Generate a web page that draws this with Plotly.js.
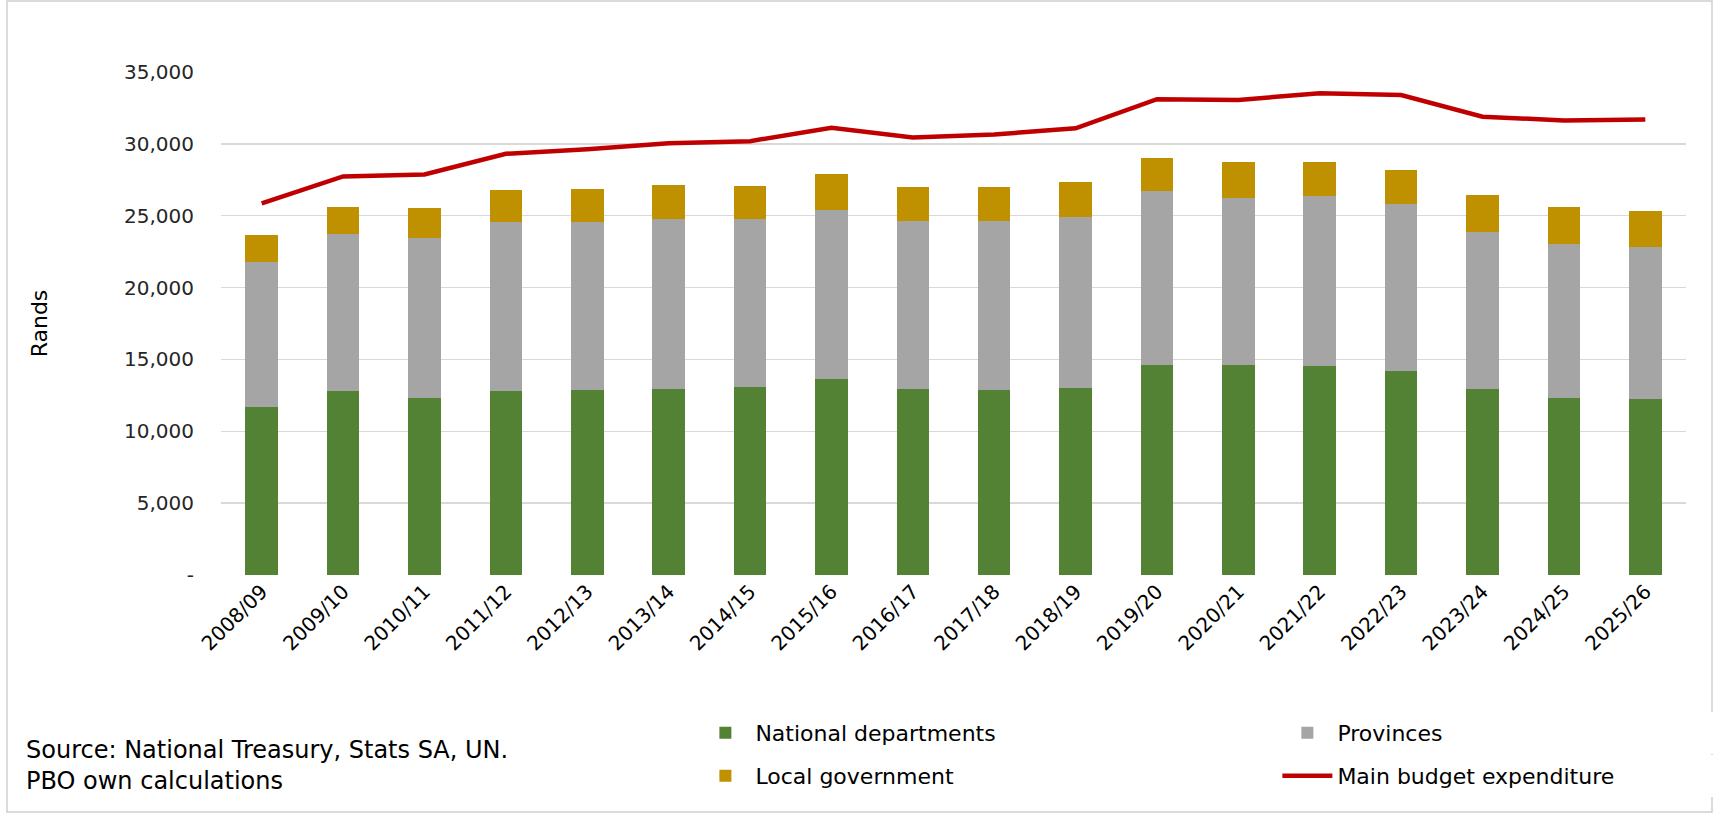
<!DOCTYPE html>
<html>
<head>
<meta charset="utf-8">
<script src="https://cdn.plot.ly/plotly-3.0.1.min.js"></script>
<style>html,body{margin:0;padding:0;background:#fff;}#chart{width:1717px;height:814px;}</style>
</head>
<body>
<div id="chart"></div>
<script>
const years = ["2008/09","2009/10","2010/11","2011/12","2012/13","2013/14","2014/15","2015/16","2016/17","2017/18","2018/19","2019/20","2020/21","2021/22","2022/23","2023/24","2024/25","2025/26"];
const nationalDepartments = [11700,12820,12300,12780,12850,12970,13060,13610,12940,12890,13040,14620,14590,14550,14210,12970,12340,12270];
const provinces = [10070,10890,11140,11770,11700,11790,11700,11800,11700,11750,11840,12080,11630,11790,11580,10910,10670,10550];
const localGovernment = [1890,1890,2090,2220,2290,2370,2320,2460,2350,2390,2440,2340,2540,2370,2420,2560,2590,2540];
const mainBudgetExpenditure = [25860,27730,27870,29310,29620,30050,30190,31120,30450,30650,31080,33110,33060,33520,33400,31890,31630,31700];
const yTickVals = [0,5000,10000,15000,20000,25000,30000,35000];
const yTickText = ["-","5,000","10,000","15,000","20,000","25,000","30,000","35,000"];
const sourceLines = ["Source: National Treasury, Stats SA, UN.","PBO own calculations"];

const FONT = "DejaVu Sans, sans-serif";
const W = 1717, H = 814;
const M = {l:221, r:31, t:72, b:239};

const traces = [
  {type:"bar", name:"National departments", x:years, y:nationalDepartments, marker:{color:"#548235"}, legend:"legend"},
  {type:"bar", name:"Provinces", x:years, y:provinces, marker:{color:"#A5A5A5"}, legend:"legend"},
  {type:"bar", name:"Local government", x:years, y:localGovernment, marker:{color:"#BF9000"}, legend:"legend2"},
  {type:"scatter", mode:"lines", name:"Main budget expenditure", x:years, y:mainBudgetExpenditure, line:{color:"#C00000", width:4.5}, legend:"legend2"}
];

const pw = W - M.l - M.r, ph = H - M.t - M.b;
const px = v => (v - M.l) / pw;
const py = v => (H - M.b - v) / ph;

const layout = {
  width:W, height:H,
  margin:M,
  paper_bgcolor:"#fff", plot_bgcolor:"#fff",
  barmode:"stack", bargap:0.6,
  font:{family:FONT, color:"#262626", size:20},
  xaxis:{type:"category", tickangle:-45, tickfont:{size:20, color:"#000"}, showgrid:false, zeroline:false, showline:false, ticks:"", automargin:false},
  yaxis:{range:[0,35000], tickvals:yTickVals, ticktext:yTickText, tickfont:{size:20, color:"#262626"}, gridcolor:"#D9D9D9", gridwidth:1.5, zeroline:false, showline:false, ticks:"", ticklabelstandoff:26, automargin:false,
    title:{text:"Rands", font:{size:22, color:"#000"}, standoff:70}},
  showlegend:true,
  legend:{orientation:"h", xref:"container", yref:"container", x:0.405, y:1-733/H, xanchor:"left", yanchor:"middle", entrywidth:517, entrywidthmode:"pixels", font:{size:22, color:"#000"}, traceorder:"normal", itemwidth:50},
  legend2:{orientation:"h", xref:"container", yref:"container", x:0.405, y:1-776/H, xanchor:"left", yanchor:"middle", entrywidth:517, entrywidthmode:"pixels", font:{size:22, color:"#000"}, traceorder:"normal", itemwidth:50},
  annotations:[{xref:"paper", yref:"paper", x:px(24), y:py(765), xanchor:"left", yanchor:"middle", align:"left", showarrow:false,
    text:sourceLines.join("<br>"), font:{size:24, color:"#000"}}],
  shapes:[{type:"rect", xref:"paper", yref:"paper", x0:px(7), x1:px(1712), y0:py(812), y1:py(1), line:{color:"#D0D0D0", width:1.5}, fillcolor:"rgba(0,0,0,0)", layer:"below"}]
};

Plotly.newPlot("chart", traces, layout, {displayModeBar:false, staticPlot:true});
</script>
</body>
</html>
